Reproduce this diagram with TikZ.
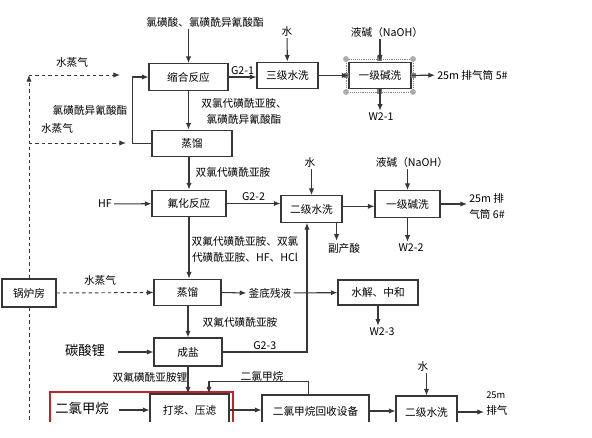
\documentclass[tikz,border=0pt]{standalone}
\usepackage{fontspec}
\setmainfont{Noto Sans CJK SC}
\usetikzlibrary{arrows.meta}
\definecolor{framered}{RGB}{192,36,40}
\definecolor{linegray}{RGB}{55,55,55}

\begin{document}
\begin{tikzpicture}[x=0.75pt, y=-0.75pt, >={Latex[length=5pt,width=4pt]}, every node/.style={font=\fontsize{8}{12}\selectfont}]
\tikzstyle{box}=[draw=linegray, line width=0.8pt, minimum height=20pt, inner sep=1pt]
\tikzstyle{cutbox}=[box, minimum height=24pt]
\tikzstyle{lbl}=[inner sep=1.5pt, align=center]
\tikzstyle{big}=[lbl, font=\fontsize{10}{12}\selectfont]
\tikzstyle{flow}=[->, draw=linegray, line width=0.8pt]
\tikzstyle{steam}=[flow, line width=0.7pt, dash pattern=on 2.6pt off 2.2pt]
\tikzstyle{handle}=[fill=gray!65]
\useasboundingbox (0,0) rectangle (592,438);
\clip (0,0) rectangle (592,421);

% process boxes
\node[box, minimum width=59.25pt] (suohe) at (188.5,77) {缩合反应};
\node[box, minimum width=45.75pt] (sanji) at (287.5,75.5) {三级水洗};
\node[box, minimum width=46.5pt] (yijiA) at (380,75.5) {一级碱洗};
\node[box, minimum width=60pt] (zhengliuA) at (192,143.5) {蒸馏};
\node[box, minimum width=55.5pt] (fuhua) at (189,203.5) {氟化反应};
\node[box, minimum width=45.75pt] (erjiA) at (311.5,209) {二级水洗};
\node[box, minimum width=48.75pt] (yijiB) at (407.5,204) {一级碱洗};
\node[box, minimum width=40.5pt, minimum height=21pt] (guolu) at (29,293) {锅炉房};
\node[box, minimum width=50.25pt] (zhengliuB) at (187.5,292.5) {蒸馏};
\node[box, minimum width=60pt, minimum height=18.75pt] (shuijie) at (378,292.5) {水解、中和};
\node[box, minimum width=51pt, minimum height=21pt] (chengyan) at (188,352) {成盐};
\draw[framered, line width=1.6pt] (50,425) |- (233,392) -- (233,425);
\node[cutbox, minimum width=59.25pt] (dajiang) at (189.5,410) {打浆、压滤};
\node[cutbox, minimum width=80.25pt] (huishou) at (315.5,411) {二氯甲烷回收设备};
\node[cutbox, minimum width=45.75pt] (erjiB) at (426.5,412) {二级水洗};

% selection handles
\draw[gray, densely dotted, line width=0.4pt] (346,59) rectangle (413,92);
\fill[handle] (346,59) circle (2.2pt);
\fill[handle] (413,59) circle (2.2pt);
\fill[handle] (346,92) circle (2.2pt);
\fill[handle] (413,92) circle (2.2pt);
\fill[gray] (376.5,56.5) rectangle (381.5,61.5);
\fill[gray] (376.5,89.5) rectangle (381.5,94.5);
\fill[gray] (343.5,73) rectangle (348.5,78);
\fill[gray] (410.5,73) rectangle (415.5,78);

% labels
\node[lbl] (feed1) at (205,22) {氯磺酸、氯磺酰异氰酸酯};
\node[lbl] (water1) at (287,31) {水};
\node[lbl] (naoh1) at (387,32) {液碱（NaOH）};
\node[lbl, anchor=west] (vent5) at (435,75) {25m 排气筒 5\#};
\node[lbl] (w21) at (381,117) {W2-1};
\node[lbl] (steam1) at (72,62) {水蒸气};
\node[lbl] (recyc) at (90,110) {氯磺酰异氰酸酯};
\node[lbl] (steam2) at (57,128) {水蒸气};
\node[lbl] (mid1) at (244,111) {双氯代磺酰亚胺、\\氯磺酰异氰酸酯};
\node[lbl] (mid2) at (233,172) {双氯代磺酰亚胺};
\node[lbl] (hf) at (105,204) {HF};
\node[lbl] (water2) at (310,162) {水};
\node[lbl] (naoh2) at (412,162) {液碱（NaOH）};
\node[lbl, anchor=west, align=left] (vent6) at (467,206) {25m 排\\气筒 6\#};
\node[lbl] (fuchan) at (344,248) {副产酸};
\node[lbl] (w22) at (411,248) {W2-2};
\node[lbl] (mid3) at (245,249) {双氟代磺酰亚胺、双氯\\代磺酰亚胺、HF、HCl};
\node[lbl] (steam3) at (100,280) {水蒸气};
\node[lbl] (fudi) at (270,293) {釜底残液};
\node[lbl] (w23) at (382,332) {W2-3};
\node[lbl] (mid4) at (240,322) {双氟代磺酰亚胺};
\node[big] (tansuan) at (85,350) {碳酸锂};
\node[lbl] (mid5) at (150,377) {双氟磺酰亚胺锂};
\node[lbl] (dcm1) at (262,376) {二氯甲烷};
\node[big] (dcm2) at (82,408) {二氯甲烷};
\node[lbl] (water3) at (423,366) {水};
\node[lbl, anchor=west, align=left] (vent) at (484,404) {{\fontsize{7}{8}\selectfont 25m}\\排气};
\coordinate (c1) at (29,75);
\coordinate (c2) at (29,143);
\coordinate (s1end) at (120,75);
\coordinate (s2end) at (126,143);
\coordinate (cbot) at (29,425);

% steam lines
\draw[steam] (guolu.north) -- (c1);
\draw[steam] (c1) -- (s1end);
\draw[steam] (c2) -- (s2end);
\draw[steam, -] (guolu.south) -- (cbot);
\draw[steam] (guolu.east) -- (zhengliuB.west);

% first stage
\draw[flow] (suohe.north |- feed1.south) -- (suohe.north);
\draw[flow] (water1) -- (sanji);
\draw[flow] (yijiA.north |- naoh1.south) -- (yijiA.north);
\draw[flow] (suohe.east) -- (suohe.east -| sanji.west) node[midway, above, lbl] (g21) {G2-1};
\draw[flow] (sanji) -- (yijiA);
\draw[flow] (yijiA) -- (vent5);
\draw[flow] (yijiA.south) -- (yijiA.south |- w21.north);
\draw[flow] (suohe.south) -- (suohe.south |- zhengliuA.north);
\draw[flow] (zhengliuA.west) -- ++(-19,0) |- (suohe.west);

% fluorination
\draw[flow] (fuhua.north |- zhengliuA.south) -- (fuhua.north);
\draw[flow] (hf) -- (fuhua);
\draw[flow] (fuhua.east) -- (fuhua.east -| erjiA.west) node[midway, above, lbl] (g22) {G2-2};
\draw[flow] (erjiA.north |- water2.south) -- (erjiA.north);
\draw[flow] (yijiB.north |- naoh2.south) -- (yijiB.north);
\draw[flow] ([yshift=2pt]erjiA.east) -- ([yshift=2pt]erjiA.east -| yijiB.west);
\draw[flow] (yijiB.east) -- (yijiB.east -| vent6.west);
\draw[flow] ([xshift=-4.5pt]erjiA.south east) -- ([xshift=-4.5pt]erjiA.south east |- fuchan.north);
\draw[flow] (yijiB.south) -- (yijiB.south |- w22.north);

% distillation, salt
\draw[flow] (fuhua.south) -- (fuhua.south |- zhengliuB.north);
\draw[flow] (zhengliuB.east) -- (fudi.west);
\draw[flow] (fudi) -- (shuijie);
\draw[flow] (shuijie.south) -- (shuijie.south |- w23.north);
\draw[flow] (chengyan.north |- zhengliuB.south) -- (chengyan.north);
\draw[flow, shorten <=8pt] (tansuan.east |- chengyan.west) -- (chengyan.west);
\draw[flow] (chengyan.east) -| ([xshift=-3.4pt]erjiA.south) node[pos=0.25, above, lbl] (g23) {G2-3};

% slurry, recovery
\draw[flow] (chengyan.south) -- (chengyan.south |- dajiang.north);
\draw[flow] ([xshift=-5.6pt]huishou.north) -- ++(0,-13) -| ([xshift=14.6pt]dajiang.north);
\draw[flow, shorten <=6pt] (dcm2.east |- dajiang.west) -- (dajiang.west);
\draw[flow] (dajiang.east) -- (dajiang.east -| huishou.west);
\draw[flow] (huishou.east) -- (huishou.east -| erjiB.west);
\draw[flow] (erjiB.north |- water3.south) -- (erjiB.north);
\draw[flow] (erjiB.east) -- (erjiB.east -| vent.west);
\end{tikzpicture}
\end{document}
